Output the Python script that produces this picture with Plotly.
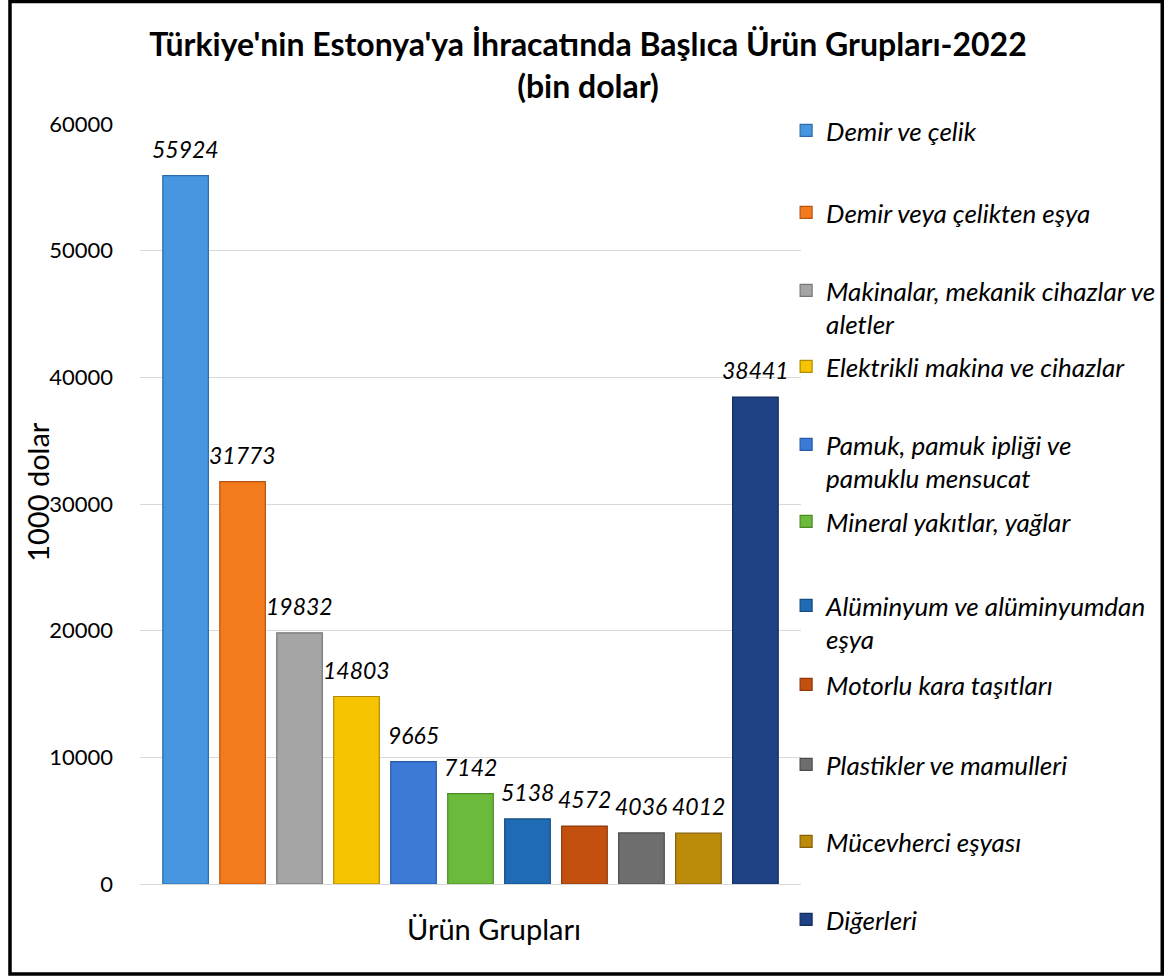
import plotly.graph_objects as go

categories = [
    "Demir ve çelik",
    "Demir veya çelikten eşya",
    "Makinalar, mekanik cihazlar ve aletler",
    "Elektrikli makina ve cihazlar",
    "Pamuk, pamuk ipliği ve pamuklu mensucat",
    "Mineral yakıtlar, yağlar",
    "Alüminyum ve alüminyumdan eşya",
    "Motorlu kara taşıtları",
    "Plastikler ve mamulleri",
    "Mücevherci eşyası",
    "Diğerleri",
]
legend_labels = [
    "Demir ve çelik",
    "Demir veya çelikten eşya",
    "Makinalar, mekanik cihazlar ve<br>aletler",
    "Elektrikli makina ve cihazlar",
    "Pamuk, pamuk ipliği ve<br>pamuklu mensucat",
    "Mineral yakıtlar, yağlar",
    "Alüminyum ve alüminyumdan<br>eşya",
    "Motorlu kara taşıtları",
    "Plastikler ve mamulleri",
    "Mücevherci eşyası",
    "Diğerleri",
]
values = [55924, 31773, 19832, 14803, 9665, 7142, 5138, 4572, 4036, 4012, 38441]
colors = ["#4796E0", "#F47A1E", "#A5A5A5", "#F6C400", "#3C7AD8", "#6BBA3B",
          "#1F6CB4", "#C4500F", "#6E6E6E", "#BD8B0A", "#1E4284"]
edges = ["#2F6CAA", "#B55510", "#777777", "#B08A00", "#285AA8", "#4C8A26",
         "#144C82", "#8E380A", "#4A4A4A", "#86610A", "#142D5C"]
y_ticks = [0, 10000, 20000, 30000, 40000, 50000, 60000]

FONT = "Lato"

# plot area in pixels
PL, PR, PT, PB = 140, 806, 124, 884
W, H = 1173, 977

def px_x(x):
    return (x - PL) / (PR - PL)

def px_y(y):
    return (PB - y) / (PB - PT)

# legend item centres (pixels, first text line)
leg_centres = [131, 213, 291, 367, 445, 522, 606, 685, 765, 842, 920]

fig = go.Figure()
for i, (cat, lab, v) in enumerate(zip(categories, legend_labels, values)):
    lname = "legend" if i == 0 else f"legend{i + 1}"
    fig.add_trace(go.Bar(
        x=[i], y=[v], name=lab, width=0.8,
        marker=dict(color=colors[i], line=dict(color=edges[i], width=1.2)),
        legend=lname,
        hovertext=[cat],
    ))

layout_legends = {}
for i, lab in enumerate(legend_labels):
    lname = "legend" if i == 0 else f"legend{i + 1}"
    cy = leg_centres[i]
    layout_legends[lname] = dict(
        x=px_x(791), xanchor="left",
        y=px_y(cy - 24), yanchor="top",
        valign="top",
        bgcolor="rgba(0,0,0,0)",
        borderwidth=0,
        font=dict(family=FONT, size=26, color="#000000", style="italic"),
        itemwidth=30,
    )

value_labels = [dict(
    x=i, y=v, xref="x", yref="y", text=str(v), showarrow=False,
    xanchor="center", yanchor="middle", yshift=27,
    font=dict(family=FONT, size=23, color="#000000", style="italic"),
) for i, v in enumerate(values)]

fig.update_layout(
    width=W, height=H,
    margin=dict(l=PL, r=W - PR, t=PT, b=H - PB, pad=0),
    paper_bgcolor="white",
    plot_bgcolor="white",
    barmode="overlay",
    showlegend=True,
    title=dict(
        text="<b>Türkiye'nin Estonya'ya İhracatında Başlıca Ürün Grupları-2022<br>(bin dolar)</b>",
        x=588 / W, xanchor="center",
        y=1 - 56 / H, yanchor="top", yref="container",
        font=dict(family=FONT, size=32, color="#000000"),
    ),
    xaxis=dict(
        range=[-0.8, 10.8], showticklabels=False, showgrid=False,
        zeroline=False, showline=False, ticks="", fixedrange=True,
    ),
    yaxis=dict(
        range=[0, 60000], tickvals=y_ticks,
        ticktext=[str(t) for t in y_ticks],
        tickfont=dict(family=FONT, size=22, color="#000000"),
        showgrid=True, gridcolor="#D9D9D9", gridwidth=1.3,
        zeroline=True, zerolinecolor="#D9D9D9", zerolinewidth=1.3,
        showline=False, ticks="", ticklabelstandoff=26,
    ),
    annotations=value_labels + [
        dict(
            text="Ürün Grupları", xref="paper", yref="paper",
            x=px_x(497), y=px_y(928), xanchor="center", yanchor="middle",
            showarrow=False, font=dict(family=FONT, size=29, color="#000000"),
        ),
        dict(
            text="1000 dolar", xref="paper", yref="paper", textangle=-90,
            x=px_x(37), y=px_y(492), xanchor="center", yanchor="middle",
            showarrow=False, font=dict(family=FONT, size=29, color="#000000"),
        ),
    ],
    shapes=[dict(
        type="rect", xref="paper", yref="paper",
        x0=px_x(9), x1=px_x(1170), y0=px_y(974), y1=px_y(1.5),
        line=dict(color="#000000", width=3.5), fillcolor="rgba(0,0,0,0)",
        layer="above",
    )],
    **layout_legends,
)

fig.write_html("out.html", config={"displayModeBar": False},
               post_script="document.body.style.margin='0';")
